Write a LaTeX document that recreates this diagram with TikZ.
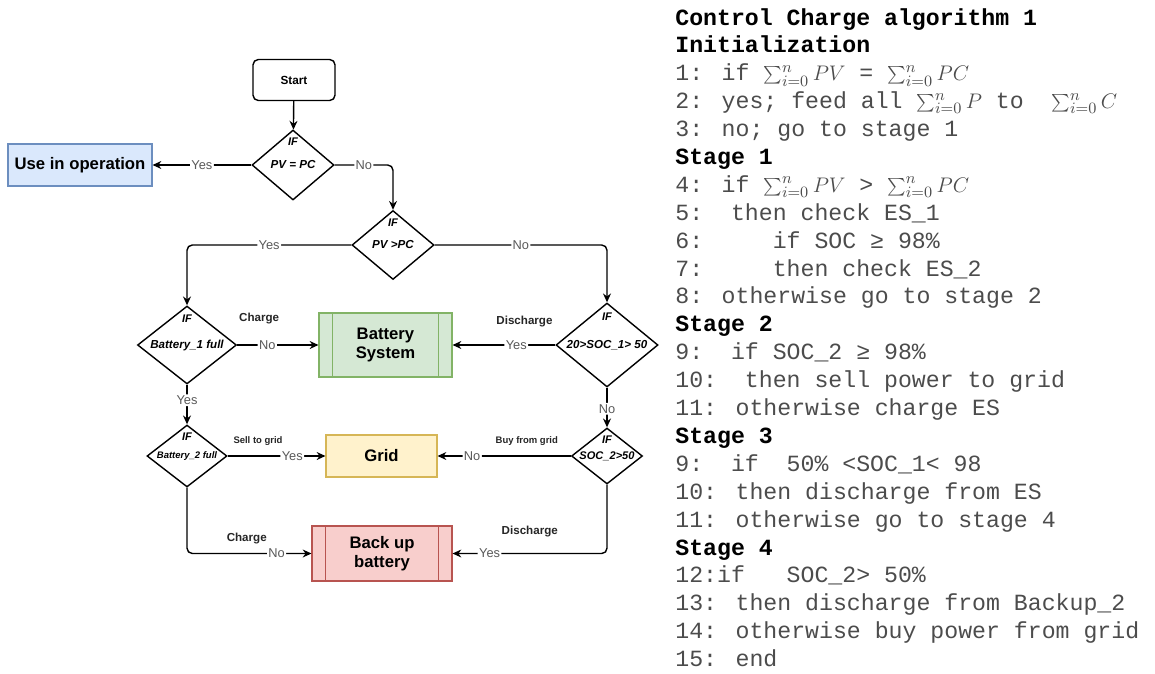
\documentclass[tikz,border=0pt]{standalone}
\usepackage{fontspec}
\setmainfont{Liberation Sans}
\newfontfamily\codefont{Liberation Mono}
\usetikzlibrary{arrows.meta,positioning,shapes.geometric}

\definecolor{opfill}{HTML}{DAE8FC}
\definecolor{opline}{HTML}{6C8EBF}
\definecolor{batfill}{HTML}{D5E8D4}
\definecolor{batline}{HTML}{82B366}
\definecolor{gridfill}{HTML}{FFF2CC}
\definecolor{gridline}{HTML}{D6B656}
\definecolor{bakfill}{HTML}{F8CECC}
\definecolor{bakline}{HTML}{B85450}

\begin{document}
\begin{tikzpicture}[x=0.02cm, y=-0.02cm,
    startbox/.style={draw, rounded corners=3pt, line width=0.8pt, minimum width=1.64cm, minimum height=0.82cm, font=\fontsize{6.7}{8}\selectfont\bfseries},
    cond/.style={diamond, draw, line width=0.8pt, inner sep=0pt, font=\fontsize{6.6}{8}\selectfont\bfseries\itshape},
    iftext/.style={inner sep=0pt, font=\fontsize{6.3}{8}\selectfont\bfseries\itshape},
    block/.style={line width=0.6pt, align=center, inner sep=0pt, font=\fontsize{9.5}{10.7}\selectfont\bfseries},
    proc/.style={block, draw=#1line, fill=#1fill, path picture={
        \draw[#1line, line width=0.6pt] ([xshift=0.27cm]path picture bounding box.north west) -- ([xshift=0.27cm]path picture bounding box.south west)
          ([xshift=-0.27cm]path picture bounding box.north east) -- ([xshift=-0.27cm]path picture bounding box.south east);}},
    arrow/.style={-{Stealth[length=5pt,width=4.5pt]}, line width=0.8pt, rounded corners=3pt},
    yesno/.style={fill=white, inner sep=0.8pt, text=black!65, font=\fontsize{7.3}{9}\selectfont},
    note/.style={inner sep=0pt, text=black!85, font=\fontsize{6.6}{8}\selectfont\bfseries},
    smallnote/.style={note, font=\fontsize{5.4}{7}\selectfont\bfseries},
    algo/.style={anchor=base west, inner sep=0pt, text=black!70, font=\codefont\fontsize{13.2}{15.8}\selectfont},
    algohd/.style={algo, text=black, font=\codefont\fontsize{13.2}{15.8}\selectfont\bfseries}
  ]
    \fill[white] (0,0) rectangle (1155,673);

    % flow chart
    \node[startbox] (start) at (294,80) {Start};
    \node[cond, minimum width=1.64cm, minimum height=1.40cm, aspect=1.17] (d1) at (293,165) {PV = PC};
    \node[block, draw=opline, fill=opfill, minimum width=2.88cm, minimum height=0.84cm] (use) at (80,165) {Use in operation};
    \node[cond, minimum width=1.64cm, minimum height=1.38cm, aspect=1.19] (d2) at (393,245) {PV >PC};

    \node[cond, minimum width=1.98cm, minimum height=1.56cm, aspect=1.27] (d3) at (187,345) {Battery\_1 full};
    \node[proc=bat, minimum width=2.66cm, minimum height=1.28cm] (battery) at (385.5,345) {Battery\\System};
    \node[cond, minimum width=2.04cm, minimum height=1.68cm, aspect=1.21] (d4) at (607,345) {20>SOC\_1> 50};

    \node[cond, minimum width=1.60cm, minimum height=1.24cm, aspect=1.29, font=\fontsize{5.4}{7}\selectfont\bfseries\itshape] (d5) at (187,456) {Battery\_2 full};
    \node[block, draw=gridline, fill=gridfill, minimum width=2.22cm, minimum height=0.84cm] (grid) at (381.5,456) {Grid};
    \node[cond, minimum width=1.42cm, minimum height=1.12cm, aspect=1.27, font=\fontsize{6.3}{7}\selectfont\bfseries\itshape] (d6) at (607,456) {SOC\_2>50};

    \node[proc=bak, minimum width=2.80cm, minimum height=1.10cm, font=\fontsize{9.5}{10.9}\selectfont\bfseries] (backup) at (382,553.5) {Back up\\battery};

    \node[iftext] (if1) at ([yshift=-0.24cm]d1.north) {IF};
    \node[iftext] (if2) at ([yshift=-0.26cm]d2.north) {IF};
    \node[iftext] (if3) at ([yshift=-0.26cm]d3.north) {IF};
    \node[iftext] (if4) at ([yshift=-0.28cm]d4.north) {IF};
    \node[iftext] (if5) at ([yshift=-0.24cm]d5.north) {IF};
    \node[iftext] (if6) at ([yshift=-0.24cm]d6.north) {IF};

    \draw[arrow] (start) -- (d1);
    \draw[arrow] (d1) -- node[yesno]{Yes} (use);
    \draw[arrow] (d1.east) -| node[yesno, pos=0.25]{No} (d2.north);
    \draw[arrow] (d2.west) -| node[yesno, pos=0.25]{Yes} (d3.north);
    \draw[arrow] (d2.east) -| node[yesno, pos=0.25]{No} (d4.north);
    \draw[arrow] (d3) -- node[yesno, pos=0.37]{No} node[note, pos=0.27, above=0.4cm]{Charge} (battery);
    \draw[arrow] (d4) -- node[yesno, pos=0.38]{Yes} node[note, pos=0.30, above=0.34cm]{Discharge} (battery);
    \draw[arrow] (d3) -- node[yesno, pos=0.39]{Yes} (d5);
    \draw[arrow] (d4) -- node[yesno, pos=0.53]{No} (d6);
    \draw[arrow] (d5) -- node[yesno, pos=0.66]{Yes} node[smallnote, pos=0.31, above=0.2cm]{Sell to grid} (grid);
    \draw[arrow] (d6) -- node[yesno, pos=0.74]{No} node[smallnote, pos=0.33, above=0.2cm]{Buy from grid} (grid);
    \draw[arrow] (d5.south) |- node[yesno, pos=0.86]{No} node[note, pos=0.74, above=0.18cm]{Charge} (backup.west);
    \draw[arrow] (d6.south) |- node[yesno, pos=0.88]{Yes} node[note, pos=0.75, above=0.32cm]{Discharge} (backup.east);

    % algorithm text
    \node[algohd] (title) at (675,25) {Control Charge algorithm 1};
    \node[algohd] (init) at ([yshift=-0.558cm]title.base west) {Initialization};
    \node[algo] (a1) at ([yshift=-0.558cm]init.base west) {1: if $\sum_{i=0}^{n}PV$ = $\sum_{i=0}^{n}PC$};
    \node[algo] (a2) at ([yshift=-0.558cm]a1.base west) {2: yes; feed all $\sum_{i=0}^{n}P$ to~~$\sum_{i=0}^{n}C$};
    \node[algo] (a3) at ([yshift=-0.558cm]a2.base west) {3: no; go to stage 1};
    \node[algohd] (st1) at ([yshift=-0.558cm]a3.base west) {Stage 1};
    \node[algo] (a4) at ([yshift=-0.558cm]st1.base west) {4: if $\sum_{i=0}^{n}PV$ > $\sum_{i=0}^{n}PC$};
    \node[algo] (a5) at ([yshift=-0.558cm]a4.base west) {5:~~then check ES\_1};
    \node[algo] (a6) at ([yshift=-0.558cm]a5.base west) {6:~~~~~if SOC ≥ 98\%};
    \node[algo] (a7) at ([yshift=-0.558cm]a6.base west) {7:~~~~~then check ES\_2};
    \node[algo] (a8) at ([yshift=-0.558cm]a7.base west) {8: otherwise go to stage 2};
    \node[algohd] (st2) at ([yshift=-0.558cm]a8.base west) {Stage 2};
    \node[algo] (a9) at ([yshift=-0.558cm]st2.base west) {9:~~if SOC\_2 ≥ 98\%};
    \node[algo] (a10) at ([yshift=-0.558cm]a9.base west) {10:~~then sell power to grid};
    \node[algo] (a11) at ([yshift=-0.558cm]a10.base west) {11: otherwise charge ES};
    \node[algohd] (st3) at ([yshift=-0.558cm]a11.base west) {Stage 3};
    \node[algo] (b9) at ([yshift=-0.558cm]st3.base west) {9:~~if~~50\% <SOC\_1< 98};
    \node[algo] (b10) at ([yshift=-0.558cm]b9.base west) {10: then discharge from ES};
    \node[algo] (b11) at ([yshift=-0.558cm]b10.base west) {11: otherwise go to stage 4};
    \node[algohd] (st4) at ([yshift=-0.558cm]b11.base west) {Stage 4};
    \node[algo] (a12) at ([yshift=-0.558cm]st4.base west) {12:if~~~SOC\_2> 50\%};
    \node[algo] (a13) at ([yshift=-0.558cm]a12.base west) {13: then discharge from Backup\_2};
    \node[algo] (a14) at ([yshift=-0.558cm]a13.base west) {14: otherwise buy power from grid};
    \node[algo] (a15) at ([yshift=-0.558cm]a14.base west) {15: end};
\end{tikzpicture}
\end{document}
